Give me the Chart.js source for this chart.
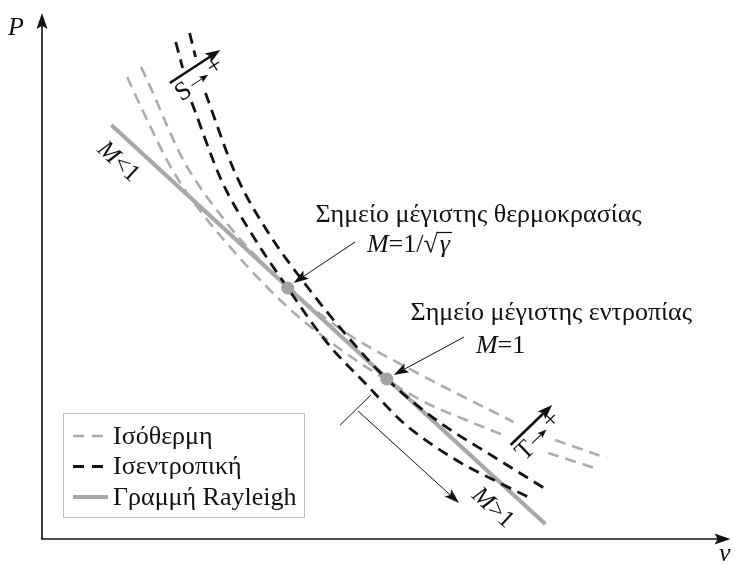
<!DOCTYPE html>
<html>
<head>
<meta charset="utf-8">
<script src="https://cdn.jsdelivr.net/npm/chart.js@4/dist/chart.umd.min.js"></script>
<style>
  html, body { margin: 0; padding: 0; background: #fff; }
  #wrap { width: 738px; height: 565px; }
</style>
</head>
<body>
<div id="wrap"><canvas id="pvChart"></canvas></div>
<script>
// v-P pairs (arbitrary units); [v, null] breaks the line where a label sits
const rayleighLine = [[7.0, 41.3], [50.8, 1.4]];
const maxPoints = [[24.8, 25.0], [34.8, 15.9]];

const isothermHigh = [
    [10.0, 47.1], [11.3, 44.3], [12.6, 41.3], [14.1, 38.1], [15.8, 35.3], [17.8, 32.6],
    [19.8, 30.1], [22.3, 27.5], [24.8, 25.0], [27.8, 22.6], [31.5, 20.0], [35.8, 17.6],
    [40.8, 15.0], [47.6, 11.6], [49.5, null], [51.8, 9.8], [57.0, 8.0]
];
const isothermLow = [
    [8.6, 46.1], [9.8, 43.5], [11.1, 40.8], [12.6, 37.8], [14.3, 35.0], [16.3, 32.3],
    [18.8, 29.3], [22.5, 25.3], [25.8, 22.2], [29.8, 19.1], [34.3, 16.1], [38.8, 13.5],
    [42.8, 11.8], [46.8, 10.2], [49.0, null], [51.1, 8.5], [55.8, 7.0]
];
const isentropeHigh = [
    [14.9, 50.5], [15.5, 48.1], [16.0, null], [16.5, 44.5], [19.5, 36.5], [22.8, 30.6],
    [26.8, 25.1], [30.8, 20.2], [34.8, 15.9], [39.8, 11.8], [45.8, 8.0], [51.0, 4.8]
];
const isentropeLow = [
    [13.5, 49.6], [14.2, 47.0], [14.6, null], [15.1, 43.6], [18.1, 35.8], [21.3, 30.2],
    [24.8, 25.0], [28.8, 19.5], [32.8, 15.3], [36.5, 11.5], [41.8, 7.8], [45.8, 5.7],
    [49.5, 3.9]
];

const legendNames = ['Ισόθερμη', 'Ισεντροπική', 'Γραμμή Rayleigh'];

const serif = '"Liberation Serif", "DejaVu Serif", serif';
const toXY = pts => pts.map(p => ({ x: p[0], y: p[1] }));

function arrow(ctx, x1, y1, x2, y2, lw, head, headW) {
    const a = Math.atan2(y2 - y1, x2 - x1);
    ctx.save();
    ctx.lineWidth = lw;
    ctx.beginPath();
    ctx.moveTo(x1, y1);
    ctx.lineTo(x2 - Math.cos(a) * head * 0.7, y2 - Math.sin(a) * head * 0.7);
    ctx.stroke();
    ctx.translate(x2, y2);
    ctx.rotate(a);
    ctx.beginPath();
    ctx.moveTo(0, 0);
    ctx.lineTo(-head, -headW / 2);
    ctx.lineTo(-head * 0.8, 0);
    ctx.lineTo(-head, headW / 2);
    ctx.closePath();
    ctx.fill();
    ctx.restore();
}

// draws text pieces one after another, [text, italic?]
function runs(ctx, x, y, parts, size) {
    parts.forEach(([t, it]) => {
        ctx.font = (it ? 'italic ' : '') + size + 'px ' + serif;
        ctx.fillText(t, x, y);
        x += ctx.measureText(t).width;
    });
    return x;
}

const decor = {
    id: 'pvDecor',
    afterDatasetsDraw(chart) {
        const ctx = chart.ctx;
        const sx = chart.scales.x, sy = chart.scales.y;
        const at = (v, p) => [sx.getPixelForValue(v), sy.getPixelForValue(p)];
        const area = chart.chartArea;
        ctx.save();
        ctx.fillStyle = '#111';
        ctx.strokeStyle = '#111';
        ctx.textBaseline = 'alphabetic';

        // axes
        arrow(ctx, area.left, area.bottom + 1, area.left, area.top - 2, 1.6, 16, 11);
        arrow(ctx, area.left - 1, area.bottom + 1, area.right - 1, area.bottom + 1, 1.6, 16, 11);
        ctx.font = 'italic 26px ' + serif;
        ctx.fillText('P', 8, 35);
        ctx.fillText('ν', 719, 561);

        // entropy and temperature direction arrows
        const dirLabel = (from, to, anchor, name) => {
            const a = at(...from), b = at(...to), c = at(...anchor);
            arrow(ctx, a[0], a[1], b[0], b[1], 2.6, 15, 11);
            const ang = Math.atan2(b[1] - a[1], b[0] - a[0]);
            ctx.save();
            ctx.translate(c[0], c[1]);
            ctx.rotate(ang);
            ctx.font = '26px ' + serif;
            ctx.textAlign = 'center';
            ctx.textBaseline = 'middle';
            ctx.fillText(name, 0, 0);
            arrow(ctx, 10, -1, 30, -1, 1, 9, 7);
            ctx.fillText('+', 40, -4);
            ctx.restore();
        };
        dirLabel([12.9, 45.5], [18.0, 48.8], [14.3, 44.6], 'S');
        dirLabel([47.3, 9.3], [51.5, 13.3], [48.8, 8.7], 'T');

        // Mach labels along the Rayleigh line
        const r0 = at(...rayleighLine[0]), r1 = at(...rayleighLine[1]);
        const rAng = Math.atan2(r1[1] - r0[1], r1[0] - r0[0]);
        const machLabel = (pos, sign) => {
            const c = at(...pos);
            ctx.save();
            ctx.translate(c[0], c[1]);
            ctx.rotate(rAng);
            ctx.textBaseline = 'middle';
            ctx.font = 'italic 25px ' + serif;
            const w1 = ctx.measureText('M').width;
            ctx.font = '25px ' + serif;
            const w2 = ctx.measureText(sign + '1').width;
            runs(ctx, -(w1 + w2) / 2, 0, [['M', true], [sign + '1', false]], 25);
            ctx.restore();
        };
        machLabel([7.7, 37.6], '<');
        machLabel([45.5, 3.0], '>');

        // supersonic branch marker
        ctx.lineWidth = 1;
        const k0 = at(30.1, 11.3), k1 = at(33.2, 14.3);
        ctx.beginPath();
        ctx.moveTo(k0[0], k0[1]);
        ctx.lineTo(k1[0], k1[1]);
        ctx.stroke();
        const m0 = at(31.9, 12.7), m1 = at(42.1, 3.5);
        arrow(ctx, m0[0], m0[1], m1[0], m1[1], 1, 15, 10);

        // maximum temperature note
        let p = at(27.6, 31.6);
        runs(ctx, p[0], p[1], [['Σημείο μέγιστης θερμοκρασίας', false]], 26);
        p = at(32.8, 28.6);
        let x = runs(ctx, p[0], p[1], [['M', true], ['=1/', false], ['√', false]], 26);
        ctx.font = 'italic 26px ' + serif;
        const gw = ctx.measureText('γ').width;
        ctx.fillText('γ', x + 2, p[1]);
        ctx.lineWidth = 1.2;
        ctx.beginPath();
        ctx.moveTo(x - 1, p[1] - 19.5);
        ctx.lineTo(x + gw + 4, p[1] - 19.5);
        ctx.stroke();
        let a0 = at(31.6, 29.6), a1 = at(25.4, 25.5);
        arrow(ctx, a0[0], a0[1], a1[0], a1[1], 1, 15, 10);

        // maximum entropy note
        p = at(37.2, 21.8);
        runs(ctx, p[0], p[1], [['Σημείο μέγιστης εντροπίας', false]], 26);
        p = at(43.8, 18.5);
        runs(ctx, p[0], p[1], [['M', true], ['=1', false]], 26);
        a0 = at(42.6, 20.1); a1 = at(35.5, 16.3);
        arrow(ctx, a0[0], a0[1], a1[0], a1[1], 1, 15, 10);

        // legend box
        const bx = area.left + 21, by = area.bottom - 125, bw = 241, bh = 104;
        ctx.fillStyle = '#fff';
        ctx.fillRect(bx, by, bw, bh);
        ctx.strokeStyle = '#bdbdbd';
        ctx.lineWidth = 1;
        ctx.strokeRect(bx + 0.5, by + 0.5, bw, bh);
        legendNames.forEach((name, i) => {
            const ds = chart.data.datasets.find(d => d.label === name);
            const yy = by + 23 + i * 30.5;
            ctx.save();
            ctx.strokeStyle = ds.borderColor;
            ctx.lineWidth = ds.borderWidth;
            ctx.setLineDash(ds.borderDash ? [11, 8] : []);
            ctx.beginPath();
            ctx.moveTo(bx + 10, yy);
            ctx.lineTo(bx + (ds.borderDash ? 41 : 45), yy);
            ctx.stroke();
            ctx.restore();
            ctx.fillStyle = '#111';
            ctx.font = '26px ' + serif;
            ctx.textBaseline = 'middle';
            ctx.fillText(name, bx + 50, yy + 1);
            ctx.textBaseline = 'alphabetic';
        });
        ctx.restore();
    }
};

const grayDash = { borderColor: '#ababab', borderWidth: 2.6, borderDash: [11, 7] };
const blackDash = { borderColor: '#141414', borderWidth: 2.8, borderDash: [11, 7] };

new Chart(document.getElementById('pvChart'), {
    type: 'line',
    data: {
        datasets: [
            {
                label: 'points', data: toXY(maxPoints), showLine: false,
                pointRadius: 6.5, pointBackgroundColor: '#a3a3a3', pointBorderWidth: 0
            },
            { label: 'Ισεντροπική', data: toXY(isentropeHigh), ...blackDash },
            { label: 'Ισεντροπική ', data: toXY(isentropeLow), ...blackDash },
            { label: 'Ισόθερμη', data: toXY(isothermHigh), ...grayDash },
            { label: 'Ισόθερμη ', data: toXY(isothermLow), ...grayDash },
            { label: 'Γραμμή Rayleigh', data: toXY(rayleighLine), borderColor: '#a8a8a8', borderWidth: 4.2 }
        ]
    },
    options: {
        responsive: true,
        maintainAspectRatio: false,
        animation: false,
        events: [],
        spanGaps: false,
        layout: { padding: { left: 42, right: 0, top: 15, bottom: 27 } },
        elements: {
            line: { cubicInterpolationMode: 'monotone', fill: false, borderCapStyle: 'butt' },
            point: { radius: 0 }
        },
        scales: {
            x: { type: 'linear', min: 0, max: 69.6, display: false },
            y: { type: 'linear', min: 0, max: 52.3, display: false }
        },
        plugins: { legend: { display: false }, tooltip: { enabled: false } }
    },
    plugins: [decor]
});
</script>
</body>
</html>
